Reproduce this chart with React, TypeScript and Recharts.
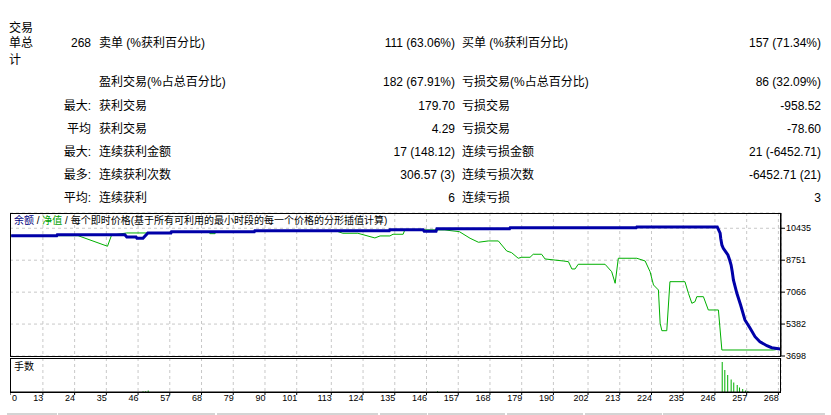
import { ComposedChart, Line, Bar, XAxis, YAxis, CartesianGrid } from 'recharts'

const FONT = '"Liberation Sans", "Noto Sans CJK SC", sans-serif'

// stats table
const ROW_PREFIX = ['268', '', '最大:', '平均', '最大:', '最多:', '平均:']
const ROW_LEFT_LABEL = ['卖单 (%获利百分比)', '盈利交易(%占总百分比)', '获利交易', '获利交易', '连续获利金额', '连续获利次数', '连续获利']
const ROW_LEFT_VALUE = ['111 (63.06%)', '182 (67.91%)', '179.70', '4.29', '17 (148.12)', '306.57 (3)', '6']
const ROW_RIGHT_LABEL = ['买单 (%获利百分比)', '亏损交易(%占总百分比)', '亏损交易', '亏损交易', '连续亏损金额', '连续亏损次数', '连续亏损']
const ROW_RIGHT_VALUE = ['157 (71.34%)', '86 (32.09%)', '-958.52', '-78.60', '21 (-6452.71)', '-6452.71 (21)', '3']
const ROW_Y = [43, 82, 106, 129, 152, 175, 198]

// axes
const X_TICKS = [0, 13, 24, 35, 46, 57, 68, 79, 90, 101, 113, 124, 135, 146, 157, 168, 179, 190, 202, 213, 224, 235, 246, 257, 268]
const X_DOMAIN = [1.6, 268.9]
const Y_TICKS = [3698, 5382, 7066, 8751, 10435]
const Y_DOMAIN = [3698, 11240]

// balance (blue)
const BALANCE_TRADE = [2, 17.8, 18, 41.4, 42.1, 45.3, 45.6, 47.7, 49.4, 57.4, 57.6, 86.3, 86.5, 133.1, 133.3, 144.8, 145.2, 149.3, 149.6, 174.8, 175, 218.7, 218.9, 246.8, 247.8, 248, 248.4, 248.9, 249.7, 250.5, 251.1, 251.6, 252, 252.4, 253.6, 254.9, 256.4, 258.2, 259.9, 261.6, 264, 265.7, 268.6]
const BALANCE = [10045, 10045, 10098, 10098, 9976, 9976, 9908, 9908, 10187, 10187, 10256, 10256, 10309, 10309, 10361, 10361, 10277, 10277, 10414, 10414, 10467, 10467, 10504, 10504, 10172, 9908, 9554, 9380, 9201, 9027, 8763, 8499, 8145, 7708, 7006, 6389, 5597, 5159, 4716, 4452, 4241, 4136, 4067]

// equity (green)
const EQUITY_TRADE = [2, 25.2, 35.4, 36.8, 38, 42.1, 49.4, 57.4, 57.6, 70.7, 70.9, 72.7, 72.9, 86.3, 86.5, 114.3, 117, 122.2, 128.1, 129.9, 133.3, 134.4, 137.9, 138.5, 152.4, 157.4, 161.1, 164, 167.4, 170.9, 173.8, 175.5, 177.8, 179, 181.9, 183, 185.9, 187.1, 193.4, 195.2, 196.4, 197.5, 198.6, 207.9, 210.2, 211.4, 212.5, 218.9, 221.8, 223.5, 224.7, 226.4, 227, 227.6, 229.3, 230.4, 235.6, 236.8, 238, 239.1, 239.7, 242, 243.7, 247.2, 248.4, 266.3, 268.6]
const EQUITY = [10045, 10045, 9486, 10066, 10098, 10187, 10187, 10187, 10256, 10256, 10150, 10150, 10256, 10256, 10309, 10309, 10172, 10172, 9924, 10030, 10030, 10119, 10119, 10361, 10345, 10256, 9908, 9697, 9766, 9766, 9238, 9148, 8853, 8905, 8905, 9064, 9064, 8816, 8710, 8673, 8288, 8288, 8536, 8536, 8145, 7534, 8853, 8853, 8710, 8145, 7444, 7180, 5423, 5033, 5033, 7618, 7618, 7006, 6478, 6563, 6827, 6827, 6125, 6125, 4015, 4015, 4067]

// lots
const LOT_TRADE = [47.6, 48.5, 49.4, 149.7, 248.4, 249.3, 250.3, 251.5, 252.4, 253.6, 254.4, 255.5, 256.5, 257.3]
const LOTS = [0.08, 0.08, 0.15, 0.08, 3.0, 2.2, 1.7, 1.25, 0.95, 0.7, 0.45, 0.3, 0.15, 0.1]

const balanceData = BALANCE_TRADE.map((t, i) => ({ trade: t, balance: BALANCE[i] }))
const equityData = EQUITY_TRADE.map((t, i) => ({ trade: t, equity: EQUITY[i] }))
const lotData = LOT_TRADE.map((t, i) => ({ trade: t, lots: LOTS[i] }))
const xTickValues = X_TICKS.map((t) => Math.max(t, X_DOMAIN[0]))

const BOTTOM_SEGMENTS = [[7, 57], [58, 215], [217, 378], [380, 427], [428, 505], [507, 583], [585, 662], [663, 825]]

function XTick(props: any) {
  const { x, y, index } = props
  const first = index === 0
  return (
    <text x={first ? x + 2 : x + 0.5} y={y} dy="0.71em" textAnchor={first ? 'start' : 'end'} fontSize={9} fontFamily={FONT} fill="#000">
      {X_TICKS[index]}
    </text>
  )
}

const cell = (style: React.CSSProperties, text: string, key: string) => (
  <div key={key} style={{ position: 'absolute', height: 16, lineHeight: '16px', whiteSpace: 'nowrap', ...style }}>{text}</div>
)

export default function App() {
  return (
    <div style={{ position: 'absolute', left: 0, top: 0, width: 831, height: 415, background: '#fff', fontFamily: FONT, fontSize: 12, color: '#000', overflow: 'hidden' }}>
      {cell({ left: 9, top: 20 }, '交易', 'l1')}
      {cell({ left: 9, top: 35 }, '单总', 'l2')}
      {cell({ left: 9, top: 52 }, '计', 'l3')}
      {ROW_Y.map((y, i) => (
        <div key={i}>
          {cell({ left: 0, width: 91, textAlign: 'right', top: y - 8 }, ROW_PREFIX[i], 'a')}
          {cell({ left: 99, top: y - 8 }, ROW_LEFT_LABEL[i], 'b')}
          {cell({ left: 255, width: 200, textAlign: 'right', top: y - 8 }, ROW_LEFT_VALUE[i], 'c')}
          {cell({ left: 462, top: y - 8 }, ROW_RIGHT_LABEL[i], 'd')}
          {cell({ left: 621, width: 200, textAlign: 'right', top: y - 8 }, ROW_RIGHT_VALUE[i], 'e')}
        </div>
      ))}

      <div style={{ position: 'absolute', left: 10, top: 212 }}>
        <ComposedChart width={821} height={153} margin={{ top: 1, right: 0, bottom: 9, left: 0 }}>
          <CartesianGrid stroke="#c8c8c8" strokeDasharray="3 3" />
          <XAxis dataKey="trade" type="number" domain={X_DOMAIN} ticks={xTickValues} interval={0} allowDataOverflow hide />
          <YAxis
            orientation="right"
            type="number"
            domain={Y_DOMAIN}
            ticks={Y_TICKS}
            interval={0}
            allowDataOverflow
            width={50}
            tickSize={4}
            tickMargin={1}
            axisLine={{ stroke: '#000' }}
            tickLine={{ stroke: '#000' }}
            tick={{ fontSize: 9, fill: '#000', fontFamily: FONT }}
          />
          <Line data={equityData} dataKey="equity" type="linear" stroke="#00b000" strokeWidth={1} dot={false} isAnimationActive={false} />
          <Line data={balanceData} dataKey="balance" type="linear" stroke="#0000a8" strokeWidth={3} dot={false} isAnimationActive={false} />
        </ComposedChart>
      </div>
      <div style={{ position: 'absolute', left: 10, top: 213, width: 771, height: 144, border: '1px solid #000', boxSizing: 'border-box', pointerEvents: 'none' }} />
      <div style={{ position: 'absolute', left: 14, top: 215, fontSize: 10, lineHeight: '12px', whiteSpace: 'nowrap' }}>
        <span style={{ color: '#000080' }}>余额</span> / <span style={{ color: '#00a000' }}>净值</span> / 每个即时价格(基于所有可利用的最小时段的每一个价格的分形插值计算)
      </div>

      <div style={{ position: 'absolute', left: 10, top: 358 }}>
        <ComposedChart width={821} height={56} data={lotData} margin={{ top: 0, right: 50, bottom: 0, left: 0 }}>
          <CartesianGrid stroke="#c8c8c8" strokeDasharray="3 3" horizontal={false} />
          <XAxis
            dataKey="trade"
            type="number"
            domain={X_DOMAIN}
            ticks={xTickValues}
            interval={0}
            allowDataOverflow
            height={22}
            tickSize={3}
            tickMargin={0}
            axisLine={{ stroke: '#000' }}
            tickLine={{ stroke: '#000' }}
            tick={<XTick />}
          />
          <YAxis type="number" domain={[0, 3.4]} hide />
          <Bar dataKey="lots" fill="#00b000" barSize={1} isAnimationActive={false} />
        </ComposedChart>
      </div>
      <div style={{ position: 'absolute', left: 10, top: 358, width: 771, height: 35, border: '1px solid #000', boxSizing: 'border-box', pointerEvents: 'none' }} />
      <div style={{ position: 'absolute', left: 14, top: 361, fontSize: 10, lineHeight: '12px' }}>手数</div>

      {BOTTOM_SEGMENTS.map(([a, b], i) => (
        <div key={i} style={{ position: 'absolute', left: a, top: 413, width: b - a, height: 2, background: '#d4d4d4' }} />
      ))}
    </div>
  )
}
